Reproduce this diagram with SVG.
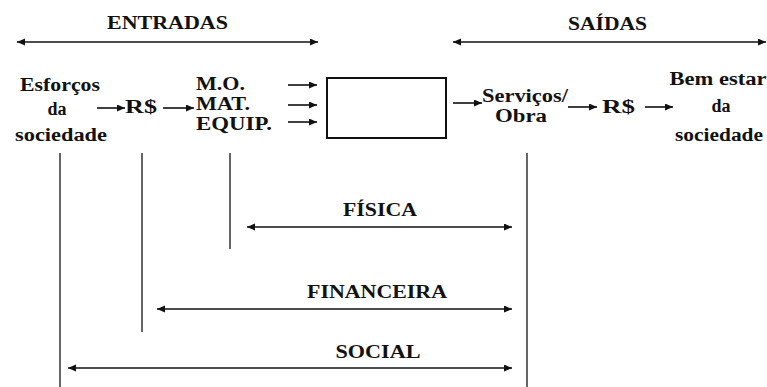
<svg xmlns="http://www.w3.org/2000/svg" width="767" height="387" viewBox="0 0 767 387">
<defs>
<marker id="ah" markerUnits="userSpaceOnUse" markerWidth="9" markerHeight="8" refX="8" refY="3.5" orient="auto-start-reverse">
<path d="M0,0 L8,3.5 L0,7 z" fill="#111"/>
</marker>
<style>
text{font-weight:bold;font-size:18px;fill:#111}
.m{text-anchor:middle}
.a{stroke:#111;stroke-width:1.6;fill:none;marker-end:url(#ah)}
.d{stroke:#111;stroke-width:1.6;fill:none;marker-start:url(#ah);marker-end:url(#ah)}
.v{stroke:#666;stroke-width:2;fill:none}
</style>
</defs>
<rect width="767" height="387" fill="#fff"/>
<g font-family="Liberation Serif, Times New Roman, serif">
<g id="entradas">
<text class="m" x="167.5" y="29" textLength="121" lengthAdjust="spacingAndGlyphs">ENTRADAS</text>
</g>
<g id="saidas">
<text class="m" x="607.5" y="30" textLength="79" lengthAdjust="spacingAndGlyphs">SAÍDAS</text>
</g>
<g id="esforcos">
<text class="m" x="60" y="91" textLength="80" lengthAdjust="spacingAndGlyphs">Esforços</text>
<text class="m" x="57" y="115">da</text>
<text class="m" x="61" y="141" textLength="92" lengthAdjust="spacingAndGlyphs">sociedade</text>
</g>
<g id="rs1">
<text x="125" y="113" textLength="32" lengthAdjust="spacingAndGlyphs">R$</text>
</g>
<g id="recursos">
<text x="196" y="90" textLength="49" lengthAdjust="spacingAndGlyphs">M.O.</text>
<text x="196" y="110" textLength="54" lengthAdjust="spacingAndGlyphs">MAT.</text>
<text x="196" y="130" textLength="76" lengthAdjust="spacingAndGlyphs">EQUIP.</text>
</g>
<g id="caixa">
<rect x="327" y="78" width="119" height="60" fill="#fff" stroke="#111" stroke-width="2"/>
</g>
<g id="servicos">
<text x="482" y="102" textLength="86" lengthAdjust="spacingAndGlyphs">Serviços/</text>
<text class="m" x="521" y="122" textLength="52" lengthAdjust="spacingAndGlyphs">Obra</text>
</g>
<g id="rs2">
<text x="602" y="113" textLength="33" lengthAdjust="spacingAndGlyphs">R$</text>
</g>
<g id="bemestar">
<text class="m" x="718" y="85" textLength="97" lengthAdjust="spacingAndGlyphs">Bem estar</text>
<text class="m" x="721" y="112">da</text>
<text class="m" x="719" y="141" textLength="88" lengthAdjust="spacingAndGlyphs">sociedade</text>
</g>
<g id="fisica">
<text class="m" x="380" y="216" textLength="74" lengthAdjust="spacingAndGlyphs">FÍSICA</text>
</g>
<g id="financeira">
<text class="m" x="377" y="298" textLength="140" lengthAdjust="spacingAndGlyphs">FINANCEIRA</text>
</g>
<g id="social">
<text class="m" x="378" y="358" textLength="85" lengthAdjust="spacingAndGlyphs">SOCIAL</text>
</g>
</g>
<g id="connectors">
<line class="d" x1="17" y1="42" x2="318" y2="42"/>
<line class="d" x1="453" y1="42" x2="766" y2="42"/>
<line class="a" x1="97" y1="108" x2="125" y2="108"/>
<line class="a" x1="163" y1="108" x2="194" y2="108"/>
<line class="a" x1="288" y1="85" x2="317" y2="85"/>
<line class="a" x1="288" y1="105" x2="317" y2="105"/>
<line class="a" x1="288" y1="122" x2="317" y2="122"/>
<line class="a" x1="453" y1="103" x2="482" y2="103"/>
<line class="a" x1="568" y1="107" x2="597" y2="107"/>
<line class="a" x1="645" y1="107" x2="673" y2="107"/>
<line class="v" x1="60" y1="153" x2="60" y2="387"/>
<line class="v" x1="142" y1="153" x2="142" y2="332"/>
<line class="v" x1="230" y1="153" x2="230" y2="249"/>
<line class="v" x1="527" y1="153" x2="527" y2="387"/>
<line class="d" x1="247" y1="227" x2="512" y2="227"/>
<line class="d" x1="157" y1="309" x2="512" y2="309"/>
<line class="d" x1="68" y1="368" x2="512" y2="368"/>
</g>
</svg>
